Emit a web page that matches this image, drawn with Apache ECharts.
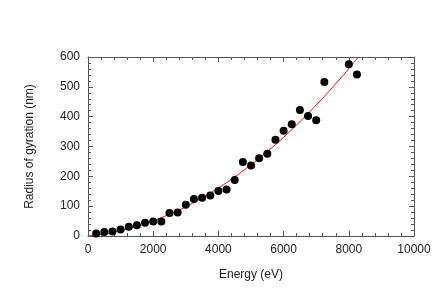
<!DOCTYPE html>
<html><head><meta charset="utf-8">
<script src="https://cdn.jsdelivr.net/npm/echarts@6/dist/echarts.min.js"></script>
<style>html,body{margin:0;padding:0;background:#fff}#c{width:436px;height:305px}</style>
</head><body><div id="c"></div>
<script>
var energy = [250,500,750,1000,1250,1500,1750,2000,2250,2500,2750,3000,3250,3500,3750,4000,4250,4500,4750,5000,5250,5500,5750,6000,6250,6500,6750,7000,7250,8000,8250];
var radius = [8,13,15,22,31,36,44,49,49,77,79,105,124,128,136,151,156,188,248,236,261,276,323,353,375,422,402,388,516,576,541];
var fitEnergy = [0,500,1000,1500,2000,2500,3000,3500,4000,4500,5000,5500,6000,6500,7000,7500,8000,8292];
var fitRadius = [0,7,18,32,51,73,98,128,161,198,239,283,331,383,439,498,561,600];

var ff = '"Liberation Sans", Arial, sans-serif';
var frame = '#555';
function axisBase(show) {
  return {
    type: 'value', min: 0,
    axisLine: {show: true, onZero: false, lineStyle: {color: frame, width: 1}},
    axisTick: {show: true, inside: true, length: 5, lineStyle: {color: frame}},
    minorTick: {show: true, splitNumber: 5, length: 3, lineStyle: {color: frame}},
    splitLine: {show: false},
    axisLabel: {show: show, color: '#222', fontSize: 12, fontFamily: ff, formatter: function(v){ return String(v); }}
  };
}
var xb = axisBase(true), xt = axisBase(false), yl = axisBase(true), yr = axisBase(false);
[xb, xt].forEach(function(a){ a.max = 10000; a.interval = 2000; });
[yl, yr].forEach(function(a){ a.max = 600; a.interval = 100; });
xb.position = 'bottom'; xt.position = 'top';
yl.position = 'left'; yr.position = 'right';
xb.axisLabel.margin = 8; yl.axisLabel.margin = 8;
xb.name = 'Energy (eV)'; xb.nameLocation = 'middle'; xb.nameGap = 33;
xb.nameTextStyle = {color: '#222', fontSize: 12, fontFamily: ff};
yl.name = 'Radius of gyration (nm)'; yl.nameLocation = 'middle'; yl.nameGap = 52;
yl.nameTextStyle = {color: '#222', fontSize: 12, fontFamily: ff};

var chart = echarts.init(document.getElementById('c'), null, {renderer: 'canvas'});
var fitData = fitEnergy.map(function(x,i){ return [x, fitRadius[i]]; });
var ptData = energy.map(function(x,i){ return [x, radius[i]]; });
chart.setOption({
  animation: false,
  backgroundColor: '#fff',
  grid: {left: 88, right: 22, top: 57, bottom: 69},
  xAxis: [xb, xt],
  yAxis: [yl, yr],
  series: [
    {type: 'line', data: fitData, smooth: true, showSymbol: false, lineStyle: {color: '#ff0000', width: 1}, z: 2},
    {type: 'scatter', data: ptData, symbol: 'circle', symbolSize: 8, itemStyle: {color: '#000', opacity: 1}, z: 3}
  ]
});
</script></body></html>
